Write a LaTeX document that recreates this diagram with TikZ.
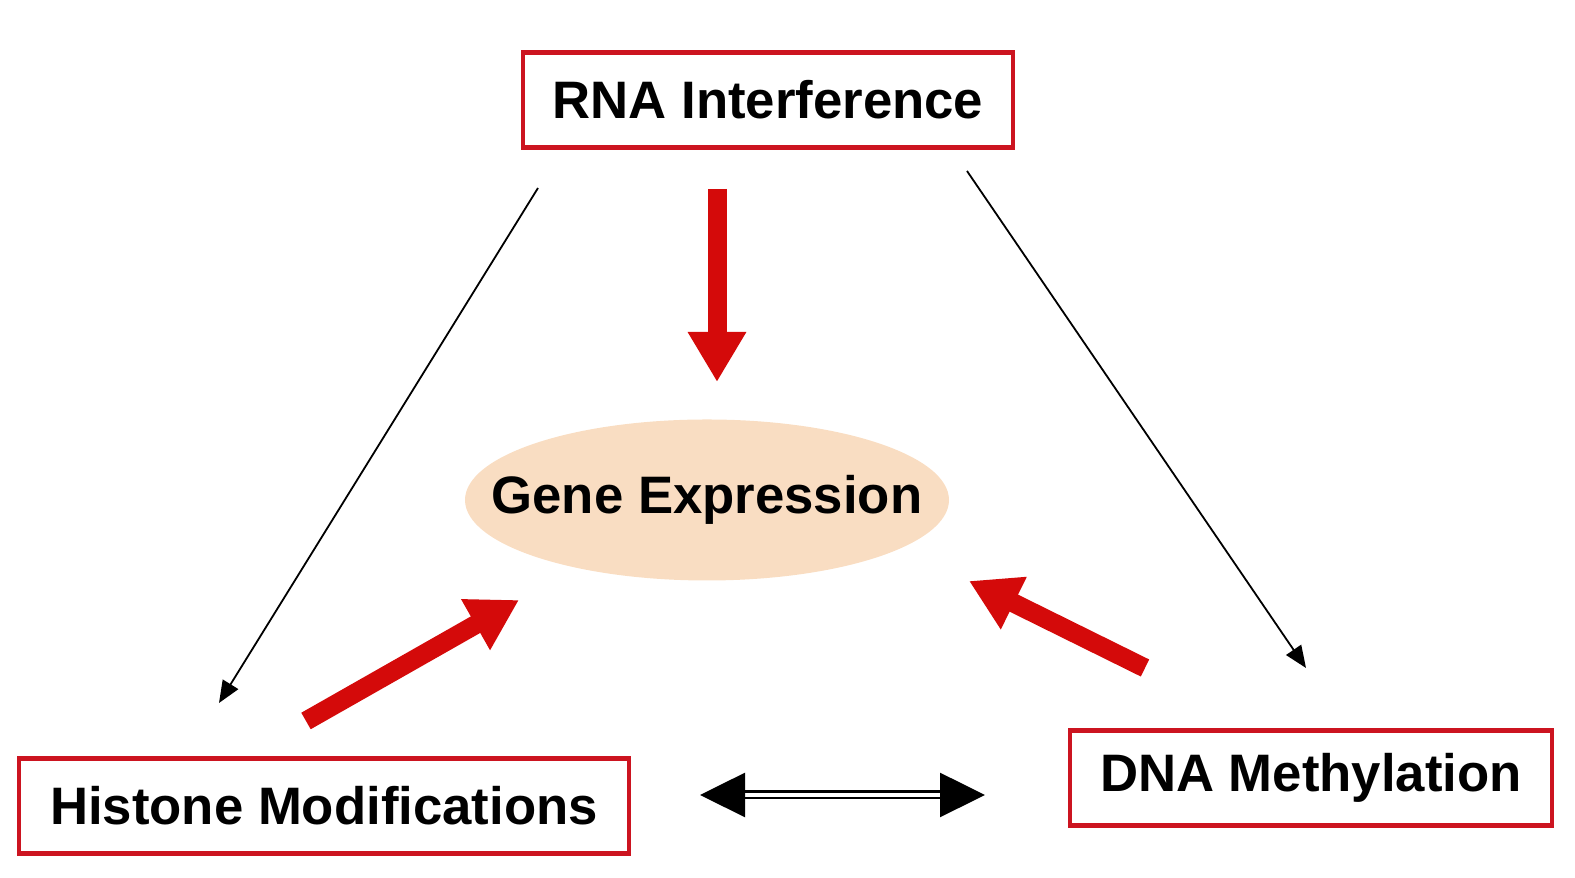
\documentclass[tikz,border=0pt]{standalone}
\usepackage{fontspec}
\setmainfont{Liberation Sans}
\usetikzlibrary{arrows.meta,shapes.geometric}
\definecolor{boxred}{HTML}{CC1420}
\definecolor{arrowred}{HTML}{D40A0A}
\definecolor{genepeach}{HTML}{F9DDC2}
\tikzset{
  redbox/.style={draw=boxred, line width=0.045cm, fill=white, minimum height=0.95cm, inner sep=0pt, font=\fontsize{15}{18}\selectfont\bfseries},
  thinarrow/.style={line width=0.018cm, -{Triangle[length=0.22cm, width=0.18cm]}},
  redarrow/.style={draw=arrowred, line width=0.19cm, -{Triangle[length=0.5cm, width=0.55cm]}},
}

\begin{document}
\begin{tikzpicture}
			%%%%% START %%%%%
			\useasboundingbox (0, 0) rectangle (15.75, 8.78);
			
			\node[redbox, minimum width=4.90cm] (rna) at (7.68, 7.78) {RNA Interference};
			\node[redbox, minimum width=6.10cm] (histone) at (3.24, 0.72) {Histone Modifications};
			\node[redbox, minimum width=4.82cm] (dna) at (13.11, 1.00) {DNA Methylation};
			
			\node[ellipse, fill=genepeach, minimum width=4.84cm, minimum height=1.61cm, inner xsep=-0.5cm, inner ysep=0pt, font=\fontsize{15}{18}\selectfont\bfseries] (gene) at (7.07, 3.78) {Gene Expression};
			
			% thin arrows round the triangle
			\coordinate (rnaleft) at (5.38, 6.90);
			\coordinate (histonetop) at (2.19, 1.75);
			\coordinate (rnaright) at (9.67, 7.07);
			\coordinate (dnatop) at (13.06, 2.10);
			\draw[thinarrow] (rnaleft) -- (histonetop);
			\draw[thinarrow] (rnaright) -- (dnatop);
			
			% red arrows into the centre
			\coordinate (rnatail) at (7.17, 6.89);
			\coordinate (rnahead) at (7.17, 4.96);
			\coordinate (histonetail) at (3.06, 1.57);
			\coordinate (histonehead) at (5.19, 2.78);
			\coordinate (dnatail) at (11.45, 2.10);
			\coordinate (dnahead) at (9.69, 2.97);
			\draw[redarrow] (rnatail) -- (rnahead);
			\draw[redarrow] (histonetail) -- (histonehead);
			\draw[redarrow] (dnatail) -- (dnahead);
			
			% double arrow at the bottom
			\coordinate (pairleft) at (7.00, 0.83);
			\coordinate (pairright) at (9.85, 0.83);
			\draw[draw=black, line width=0.025cm, double=white, double distance=0.04cm, {Triangle[length=0.45cm, width=0.44cm]}-{Triangle[length=0.45cm, width=0.44cm]}] (pairleft) -- (pairright);
			
			%%%%% END %%%%%
		\end{tikzpicture}
\end{document}
